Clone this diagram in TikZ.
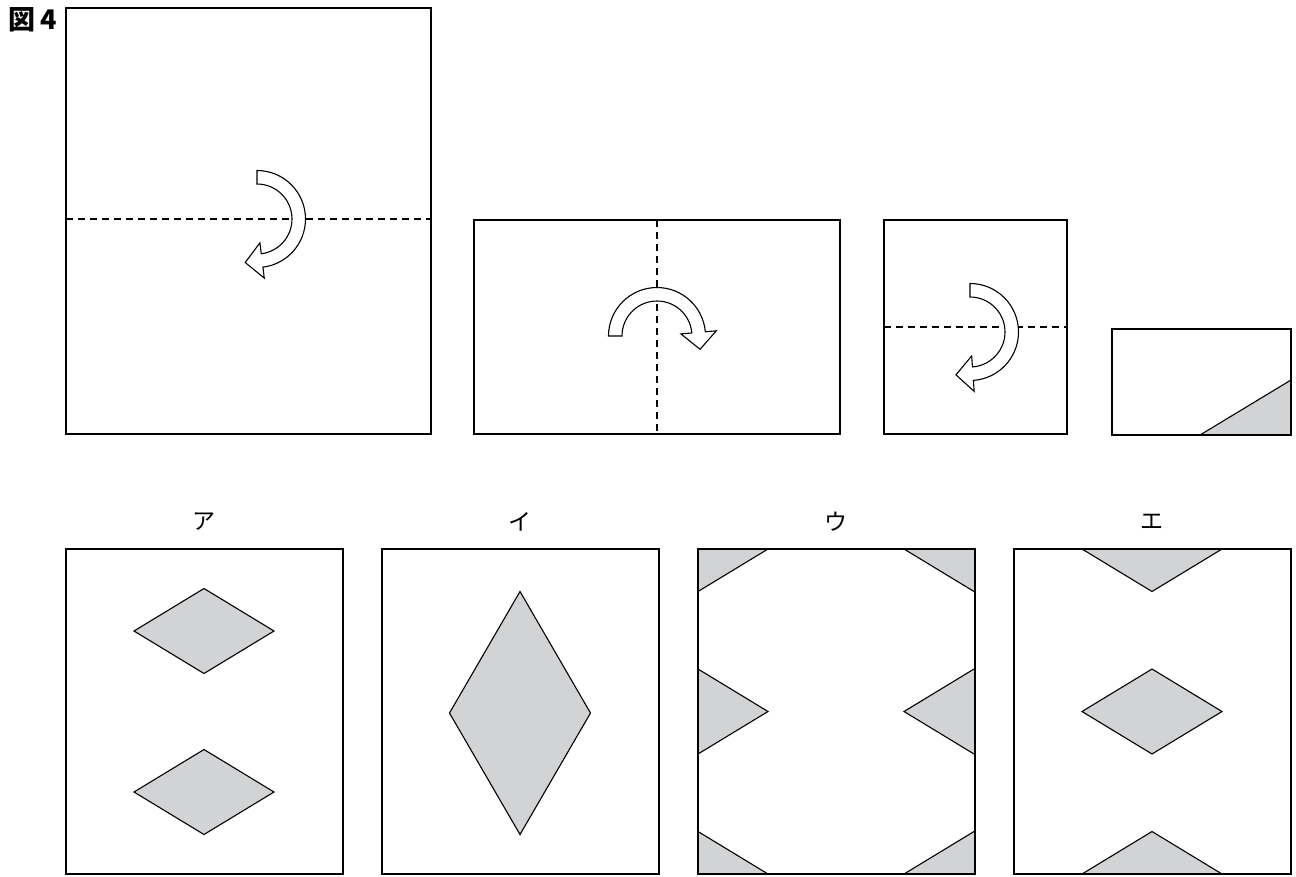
\documentclass[tikz,border=0pt]{standalone}
\usepackage{fontspec}
\newfontfamily\jpfont{Noto Sans CJK JP}
\usetikzlibrary{calc}
\definecolor{paper}{RGB}{209,211,212}
\tikzset{
  box/.style={line width=1.3pt},
  foldline/.style={line width=1.1pt, dash pattern=on 7pt off 5pt},
  arrowline/.style={line width=1.1pt, fill=white, line join=miter},
  shade/.style={line width=1.1pt, fill=paper},
  kana/.style={font=\jpfont\fontsize{23}{24}\selectfont, inner sep=0pt}
}
% hollow turning arrow: centre, start angle, end angle (clockwise)
\def\foldarrow(#1)(#2:#3){\draw[arrowline] ($(#1)+(#2:48.5)$) arc[start angle=#2, end angle=#3, radius=48.5] -- ($(#1)+(#3:59.5)$) -- ($(#1)+(#3:41.75)+(#3-90:17)$) -- ($(#1)+(#3:24)$) -- ($(#1)+(#3:35)$) arc[start angle=#3, end angle=#2, radius=35] -- cycle;}
% rhombus: centre, half width, half height
\def\rhomb(#1)(#2:#3){\draw[shade] ($(#1)+(-#2,0)$) -- ($(#1)+(0,#3)$) -- ($(#1)+(#2,0)$) -- ($(#1)+(0,-#3)$) -- cycle;}

\begin{document}
\begin{tikzpicture}[x=1pt,y=1pt]
	%%%%% START %%%%%
	\useasboundingbox (0,0) rectangle (1296,-876);
	
	\node[font=\jpfont\bfseries\fontsize{27}{28}\selectfont, inner sep=0pt, anchor=west] (title) at (8,-20) {図\hspace{5pt}4};
	
	% folding steps
	\draw[box] (66,-8) rectangle (431,-434);
	\draw[foldline] (66,-219) -- (431,-219);
	\foldarrow(257,-219)(90:-83)
	
	\draw[box] (474,-220) rectangle (840,-434);
	\draw[foldline] (657,-220) -- (657,-434);
	\foldarrow(657,-336)(180:5)
	
	\draw[box] (884,-220) rectangle (1067,-434);
	\draw[foldline] (884,-327) -- (1067,-327);
	\foldarrow(970,-332)(90:-86)
	
	\draw[shade] (1200,-435) -- (1291,-380) -- (1291,-435) -- cycle;
	\draw[box] (1112,-329) rectangle (1291,-435);
	
	% answers
	\rhomb(204,-631)(70:42.5)
	\rhomb(204,-792)(70:42.5)
	
	\rhomb(520,-713)(70.5:121.5)
	
	\begin{scope}
		\clip (698,-549) rectangle (974,-874);
		\foreach \y in {-549,-711.5,-874}{
			\rhomb(698,\y)(70:42.5)
			\rhomb(974,\y)(70:42.5)
		}
	\end{scope}
	
	\begin{scope}
		\clip (1014,-549) rectangle (1291,-874);
		\foreach \y in {-549,-711.5,-874}{
			\rhomb(1152,\y)(70:42.5)
		}
	\end{scope}
	
	\foreach \x/\lab/\nm in {66/ア/a,382/イ/i,698/ウ/u,1014/エ/e}{
		\draw[box] (\x,-549) rectangle ++(277,-325);
		\node[kana] (lab-\nm) at (\x+138,-522) {\lab};
	}
	%%%%% END %%%%%
\end{tikzpicture}
\end{document}
